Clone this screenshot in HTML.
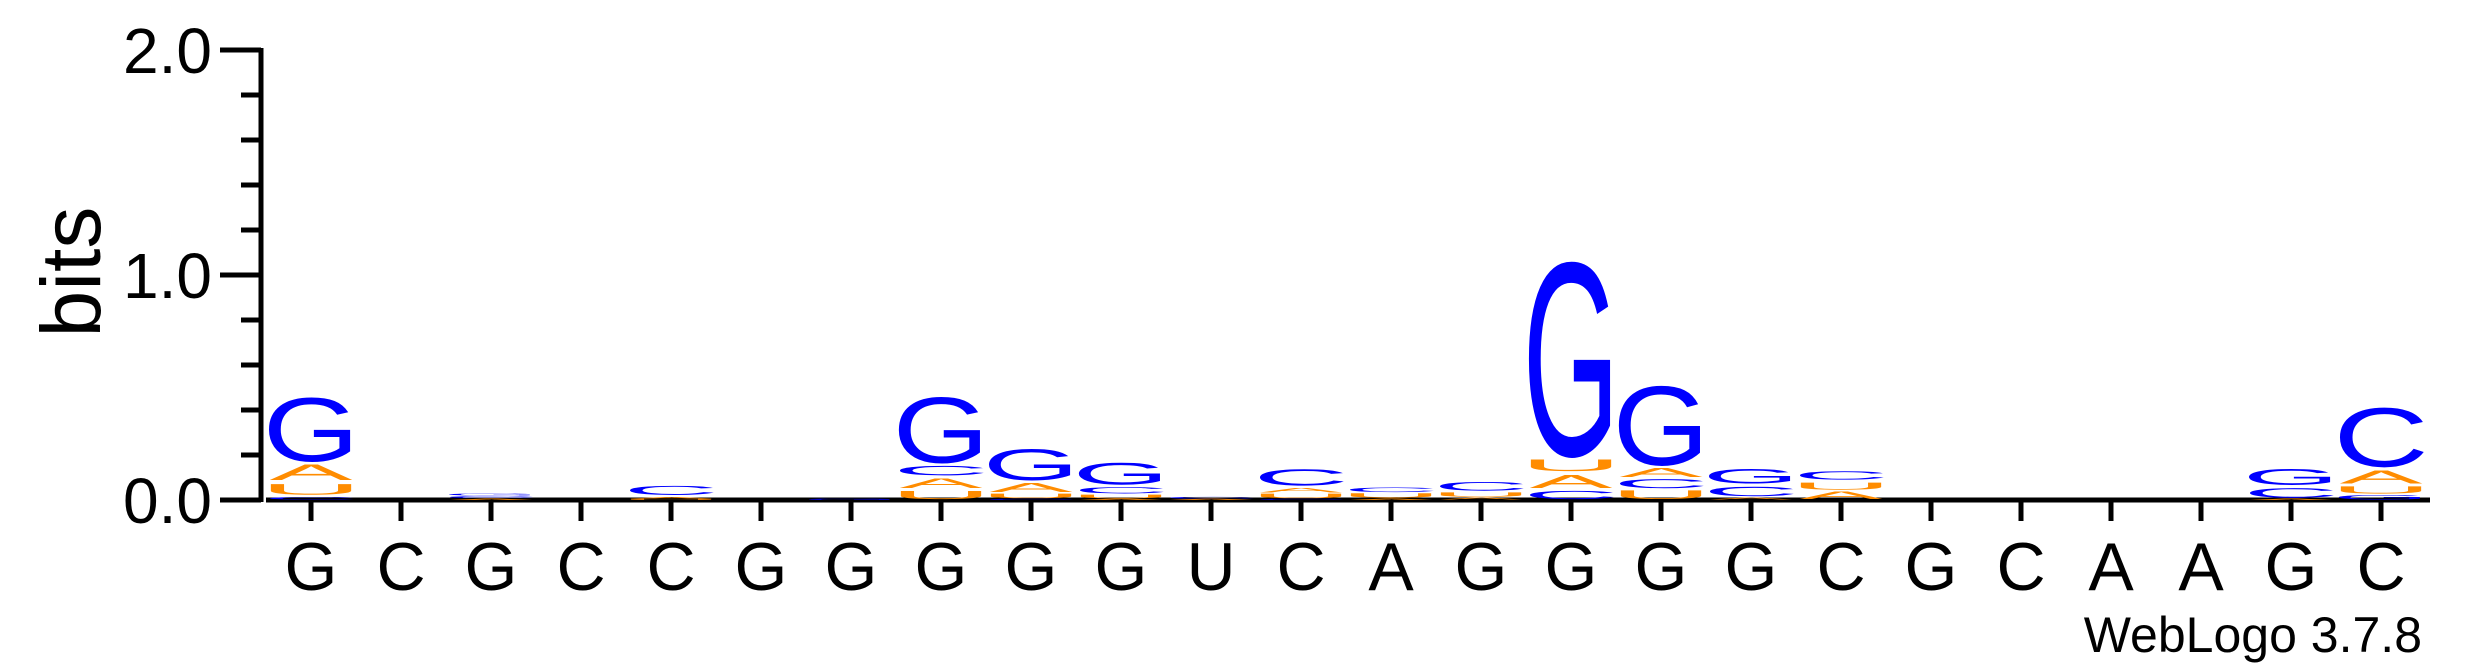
<!DOCTYPE html>
<html><head><meta charset="utf-8"><style>
html,body{margin:0;padding:0;background:#fff;}
svg{display:block;}
text{font-family:"Liberation Sans",sans-serif;}
</style></head><body>
<svg id="chart" width="2475" height="667" viewBox="0 0 2475 667" xmlns="http://www.w3.org/2000/svg">
<g id="axes"></g>
<g id="stacks"></g>
<text transform="translate(100,272) rotate(-90)" text-anchor="middle" font-size="84">bits</text>
<text x="2422" y="652" text-anchor="end" font-size="50">WebLogo 3.7.8</text>
</svg>
<script>
const positions = ["G","C","G","C","C","G","G","G","G","G","U","C","A","G","G","G","G","C","G","C","A","A","G","C"];
const stackLetters = [
 ["C","U","A","G"],[],["A","C","G"],[],["U","A","C"],[],["G"],["U","A","C","G"],
 ["C","U","A","G"],["A","U","C","G"],["A","C"],["C","U","A","C"],["A","U","C"],["A","U","C"],
 ["C","A","U","G"],["U","C","A","G"],["A","C","G"],["A","U","C"],[],[],[],[],["A","C","G"],["G","U","A","C"]
];
const stackBits = [
 [0.015,0.065,0.085,0.3],[],[0.008,0.01,0.01],[],[0.006,0.008,0.058],[],[0.005],[0.045,0.06,0.052,0.31],
 [0.006,0.025,0.048,0.155],[0.006,0.02,0.035,0.115],[0.005,0.01],[0.006,0.025,0.025,0.09],[0.008,0.025,0.025],[0.012,0.025,0.048],
 [0.045,0.075,0.07,0.88],[0.048,0.05,0.048,0.37],[0.012,0.052,0.085],[0.042,0.04,0.055],[],[],[],[],[0.005,0.053,0.09],[0.025,0.04,0.075,0.28]
];
const yTicks = [0,0.2,0.4,0.6,0.8,1.0,1.2,1.4,1.6,1.8,2.0];
const yLabels = ["0.0","","","","","1.0","","","","","2.0"];

const NS="http://www.w3.org/2000/svg";
const X0=311, DX=90, BASE=500, PPB=225, LW=82;
const xPos=i=>X0+i*DX;
const yPos=v=>BASE-v*PPB;
const colors={A:"#ff8c00",U:"#ff8c00",C:"#0000ff",G:"#0000ff"};
const inkW={A:66,U:58,C:62,G:66};
const inkH={A:69,U:70,C:70,G:70};
function mk(tag,attrs,parent){const e=document.createElementNS(NS,tag);for(const k in attrs)e.setAttribute(k,attrs[k]);parent.appendChild(e);return e;}
const axes=document.getElementById('axes');
const yAxis=mk('line',{x1:261,y1:yPos(2)-2,x2:261,y2:BASE+2,stroke:'#000','stroke-width':5},axes);


const xAxis=mk('line',{x1:266,y1:BASE,x2:2430,y2:BASE,stroke:'#000','stroke-width':5},axes);


yTicks.forEach((v,i)=>{
  const major=yLabels[i]!=="";
  const t=mk('line',{x1:major?220:241,y1:yPos(v),x2:261,y2:yPos(v),stroke:'#000','stroke-width':5},axes);
  
  
  if(major){
    const l=mk('text',{x:212,y:yPos(v)+23,'text-anchor':'end','font-size':64},axes);
    l.textContent=yLabels[i];
    
    
  }
});
positions.forEach((p,i)=>{
  const t=mk('line',{x1:xPos(i),y1:BASE,x2:xPos(i),y2:BASE+21,stroke:'#000','stroke-width':5},axes);
  
  
  const l=mk('text',{x:xPos(i),y:590,'text-anchor':'middle','font-size':68},axes);
  l.textContent=p;
  
  
});
const stacks=document.getElementById('stacks');
stackLetters.forEach((letters,i)=>{
  let cum=0;
  letters.forEach((L,j)=>{
    const b=stackBits[i][j];
    const bottom=yPos(cum); cum+=b;
    const boxH=b*PPB;
    const h=Math.max(boxH>12?boxH-4:boxH*0.8,0.6);
    const sx=LW/inkW[L], sy=h/inkH[L];
    const e=mk('text',{transform:`translate(${xPos(i)},${bottom-(boxH-h)/2}) scale(${sx},${sy})`,'text-anchor':'middle','font-size':100,fill:colors[L]},stacks);
    e.textContent=L;
    
    
  });
});
</script>
</body></html>
